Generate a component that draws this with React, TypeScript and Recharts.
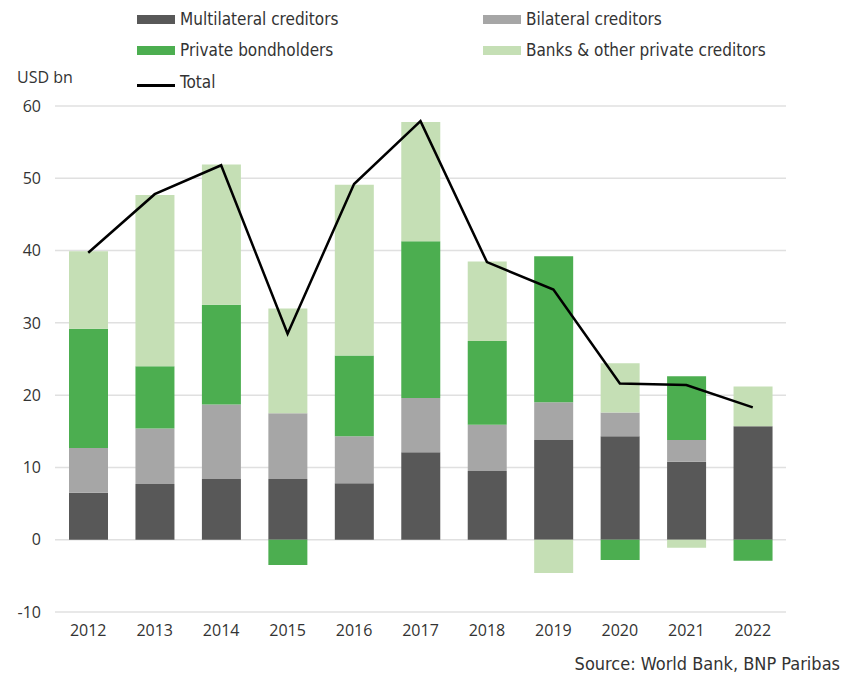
import React from "react";
import { ComposedChart, Bar, Line, XAxis, YAxis, CartesianGrid } from "recharts";

const years = ["2012", "2013", "2014", "2015", "2016", "2017", "2018", "2019", "2020", "2021", "2022"];
const multilateral = [6.5, 7.7, 8.4, 8.4, 7.8, 12.1, 9.5, 13.8, 14.3, 10.8, 15.7];
const bilateral = [6.2, 7.7, 10.3, 9.1, 6.5, 7.5, 6.4, 5.2, 3.3, 3.0, 0];
const bonds = [16.5, 8.6, 13.8, -3.5, 11.2, 21.7, 11.6, 20.2, -2.8, 8.8, -2.9];
const banks = [10.7, 23.7, 19.4, 14.5, 23.6, 16.5, 11.0, -4.6, 6.8, -1.1, 5.5];
const total = [39.7, 47.8, 51.8, 28.5, 49.2, 57.9, 38.4, 34.6, 21.6, 21.4, 18.3];
const yTicks = [-10, 0, 10, 20, 30, 40, 50, 60];

const COLORS = {
  multilateral: "#585858",
  bilateral: "#a6a6a6",
  bonds: "#4cae50",
  banks: "#c5dfb5",
  total: "#000000",
};

const data = years.map((y, i) => ({
  year: y,
  multilateral: multilateral[i],
  bilateral: bilateral[i],
  bonds: bonds[i],
  banks: banks[i],
  total: total[i],
}));

const legendFont = "'DejaVu Sans Condensed', 'DejaVu Sans', sans-serif";
const tickFont = "'Open Sans', sans-serif";

const legendItems = [
  { label: "Multilateral creditors", color: COLORS.multilateral, x: 137, y: 19, kind: "box" },
  { label: "Bilateral creditors", color: COLORS.bilateral, x: 483, y: 19, kind: "box" },
  { label: "Private bondholders", color: COLORS.bonds, x: 137, y: 50, kind: "box" },
  { label: "Banks & other private creditors", color: COLORS.banks, x: 483, y: 50, kind: "box" },
  { label: "Total", color: COLORS.total, x: 137, y: 82, kind: "line" },
];

export default function App() {
  return (
    <div style={{ position: "absolute", left: 0, top: 0, width: 844, height: 677, background: "#fff" }}>
      <ComposedChart
        width={844}
        height={677}
        data={data}
        stackOffset="sign"
        barSize={39}
        margin={{ top: 106, right: 58, bottom: 35, left: 10 }}
      >
        <CartesianGrid vertical={false} stroke="#e0e0e0" strokeWidth={1.5} />
        <XAxis
          dataKey="year"
          axisLine={false}
          tickLine={false}
          tickMargin={7}
          height={30}
          tick={{ fontFamily: tickFont, fontSize: 16, fill: "#333" }}
          interval={0}
        />
        <YAxis
          domain={[-10, 60]}
          ticks={yTicks}
          axisLine={false}
          tickLine={false}
          width={45}
          tickMargin={8}
          tick={{ fontFamily: tickFont, fontSize: 16, fill: "#333" }}
        />
        <Bar dataKey="multilateral" stackId="a" fill={COLORS.multilateral} isAnimationActive={false} />
        <Bar dataKey="bilateral" stackId="a" fill={COLORS.bilateral} isAnimationActive={false} />
        <Bar dataKey="bonds" stackId="a" fill={COLORS.bonds} isAnimationActive={false} />
        <Bar dataKey="banks" stackId="a" fill={COLORS.banks} isAnimationActive={false} />
        <Line
          dataKey="total"
          type="linear"
          stroke={COLORS.total}
          strokeWidth={2.5}
          dot={false}
          activeDot={false}
          isAnimationActive={false}
        />
      </ComposedChart>
      {legendItems.map((it) => (
        <div
          key={it.label}
          style={{ position: "absolute", left: it.x, top: it.y - 11, height: 22, display: "flex", alignItems: "center" }}
        >
          <div
            style={{
              width: 38,
              height: it.kind === "box" ? 9 : 3,
              background: it.color,
              marginRight: 5,
              marginTop: it.kind === "line" ? 6 : 0,
            }}
          />
          <span style={{ fontFamily: legendFont, fontSize: 17, color: "#333", whiteSpace: "nowrap" }}>{it.label}</span>
        </div>
      ))}
      <div
        style={{
          position: "absolute",
          left: 17,
          top: 66,
          fontFamily: tickFont,
          fontSize: 16,
          color: "#333",
          whiteSpace: "nowrap",
        }}
      >
        USD bn
      </div>
      <div
        style={{
          position: "absolute",
          right: 4,
          top: 653,
          fontFamily: legendFont,
          fontSize: 18,
          color: "#333",
          whiteSpace: "nowrap",
        }}
      >
        Source: World Bank, BNP Paribas
      </div>
    </div>
  );
}
